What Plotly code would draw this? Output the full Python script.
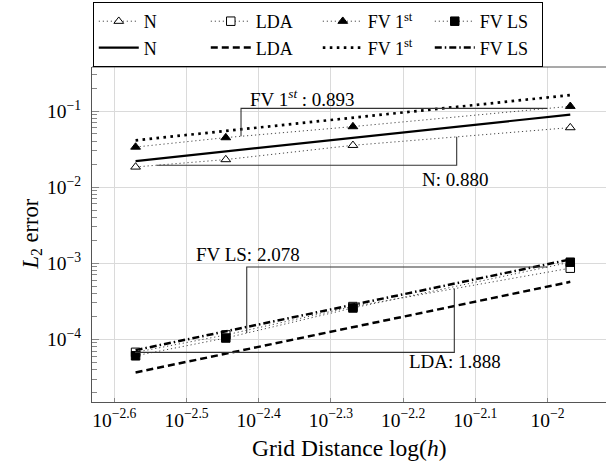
import numpy as np
import plotly.graph_objects as go

# ---------------- data ----------------
h = [1/372, 1/279, 1/186, 1/93]
err_N = [0.0184, 0.0230, 0.0354, 0.0605]
err_LDA = [6.74e-5, 1.14e-4, 2.69e-4, 8.6e-4]
err_FV1 = [0.0336, 0.0447, 0.0624, 0.1153]
err_FVLS = [6.07e-5, 1.04e-4, 2.58e-4, 1.03e-3]

h_fit = [1/372, 1/93]
fit_N = [0.0220, 0.0897]
fit_LDA = [3.66e-5, 5.69e-4]
fit_FV1 = [0.0412, 0.162]
fit_FVLS = [7.2e-5, 1.12e-3]

x_tickexp = [-2.6, -2.5, -2.4, -2.3, -2.2, -2.1, -2.0]
x_ticktext = ["10<sup>−2.6</sup>", "10<sup>−2.5</sup>", "10<sup>−2.4</sup>", "10<sup>−2.3</sup>",
              "10<sup>−2.2</sup>", "10<sup>−2.1</sup>", "10<sup>−2</sup>"]
y_tickexp = [-4, -3, -2, -1]
y_ticktext = ["10<sup>−4</sup>", "10<sup>−3</sup>", "10<sup>−2</sup>", "10<sup>−1</sup>"]

# slope triangles: (series, log10 x start, log10 x end, kind, label, label log x, label log y)
tri_series = ["FV1", "N", "FVLS", "LDA"]
tri_x0 = [-2.4245, -2.5413, -2.4166, -2.5713]
tri_x1 = [-2.0, -2.1258, -2.0, -2.1291]
tri_kind = ["upper", "lower", "upper", "lower"]
tri_label = ["FV 1<sup><i>st</i></sup> : 0.893", "N: 0.880", "FV LS: 2.078", "LDA: 1.888"]
tri_label_x = [-2.340, -2.127, -2.415, -2.128]
tri_label_y = [-0.833, -1.898, -2.883, -4.296]

series = {"N": err_N, "LDA": err_LDA, "FV1": err_FV1, "FVLS": err_FVLS}

FONT = "Liberation Serif"
fig = go.Figure()

thin_dot = dict(color="#333", width=0.9, dash="1.2px,2.8px")
fig.add_trace(go.Scatter(x=h, y=err_N, name="N", mode="lines+markers", line=thin_dot,
                         marker=dict(symbol="triangle-up", size=8.5, color="white",
                                     line=dict(color="black", width=1))))
fig.add_trace(go.Scatter(x=h, y=err_LDA, name="LDA", mode="lines+markers", line=thin_dot,
                         marker=dict(symbol="square", size=8.5, color="white",
                                     line=dict(color="black", width=1))))
fig.add_trace(go.Scatter(x=h, y=err_FV1, name="FV 1<sup>st</sup>", mode="lines+markers", line=thin_dot,
                         marker=dict(symbol="triangle-up", size=8.5, color="black",
                                     line=dict(color="black", width=1))))
fig.add_trace(go.Scatter(x=h, y=err_FVLS, name="FV LS", mode="lines+markers", line=thin_dot,
                         marker=dict(symbol="square", size=8.5, color="black",
                                     line=dict(color="black", width=1))))

fig.add_trace(go.Scatter(x=h_fit, y=fit_N, name="N", mode="lines",
                         line=dict(color="black", width=2.2)))
fig.add_trace(go.Scatter(x=h_fit, y=fit_LDA, name="LDA", mode="lines",
                         line=dict(color="black", width=2.5, dash="7px,4px")))
fig.add_trace(go.Scatter(x=h_fit, y=fit_FV1, name="FV 1<sup>st</sup>", mode="lines",
                         line=dict(color="black", width=2.7, dash="2.6px,4.4px")))
fig.add_trace(go.Scatter(x=h_fit, y=fit_FVLS, name="FV LS", mode="lines",
                         line=dict(color="black", width=2.5, dash="7px,3px,1.5px,3px")))

# slope triangles, derived from the data lines
logh = np.log10(h)
for s, x0, x1, kind in zip(tri_series, tri_x0, tri_x1, tri_kind):
    ly = np.log10(series[s])
    y0 = 10 ** np.interp(x0, logh, ly)
    y1 = 10 ** np.interp(x1, logh, ly)
    X0, X1 = 10 ** x0, 10 ** x1
    if kind == "upper":
        xs, ys = [X0, X0, X1], [y0, y1, y1]
    else:
        xs, ys = [X0, X1, X1], [y0, y0, y1]
    fig.add_trace(go.Scatter(x=xs, y=ys, mode="lines", showlegend=False, hoverinfo="skip",
                             line=dict(color="#333", width=1.1)))

for txt, lx, ly in zip(tri_label, tri_label_x, tri_label_y):
    fig.add_annotation(x=lx, y=ly, xref="x", yref="y", text=txt, showarrow=False,
                       font=dict(family=FONT, size=19, color="black"))

# axis titles
fig.add_annotation(x=0.5, y=0, xref="paper", yref="paper", yanchor="middle", yshift=-46,
                   text="Grid Distance log(<i>h</i>)", showarrow=False,
                   font=dict(family=FONT, size=23.5, color="black"))
fig.add_annotation(x=0, y=0.5, xref="paper", yref="paper", xanchor="center", xshift=-61,
                   textangle=-90, text="<i>L</i><sub>2</sub> error", showarrow=False,
                   font=dict(family=FONT, size=22.5, color="black"))

# top frame line (axis mirror, drawn only along the top edge)
fig.add_shape(type="line", xref="paper", yref="paper", x0=0, x1=1.02, y0=1, y1=1,
              line=dict(color="#555", width=1.2), layer="above")

minor_y = [k * 10.0 ** e for e in range(-6, 0) for k in range(2, 10)]

fig.update_xaxes(type="log", range=[-2.6309, -1.919],
                 tickvals=[10 ** v for v in x_tickexp], ticktext=x_ticktext,
                 showgrid=True, gridcolor="#dadada", gridwidth=1,
                 ticks="inside", ticklen=4, tickcolor="#888", ticklabelstandoff=0,
                 showline=True, linecolor="#555", linewidth=1.2, mirror=False,
                 zeroline=False,
                 tickfont=dict(family=FONT, size=19.5, color="black"))
fig.update_yaxes(type="log", range=[-4.824, -0.4218],
                 tickvals=[10 ** v for v in y_tickexp], ticktext=y_ticktext,
                 showgrid=True, gridcolor="#dadada", gridwidth=1,
                 ticks="inside", ticklen=7, tickcolor="#888", ticklabelstandoff=6,
                 minor=dict(tickvals=minor_y, ticks="inside", ticklen=5, tickcolor="#888", showgrid=False),
                 showline=True, linecolor="#555", linewidth=1.2, mirror=False,
                 zeroline=False,
                 tickfont=dict(family=FONT, size=19.5, color="black"))

fig.update_layout(
    width=606, height=463,
    margin=dict(l=92, r=0, t=66.7, b=61.3),
    plot_bgcolor="white", paper_bgcolor="white",
    font=dict(family=FONT, size=18, color="black"),
    showlegend=True,
    legend=dict(orientation="h", x=0.0015, y=1, xanchor="left", yanchor="bottom",
                bgcolor="white", bordercolor="black", borderwidth=1,
                itemwidth=40, entrywidth=57, entrywidthmode="pixels",
                font=dict(family=FONT, size=18, color="black"),
                traceorder="normal", tracegroupgap=0),
)

fig.write_html("out.html")
